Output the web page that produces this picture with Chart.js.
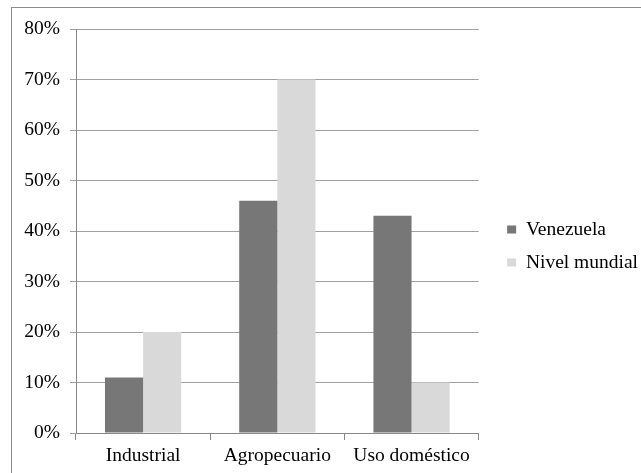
<!DOCTYPE html>
<html>
<head>
<meta charset="utf-8">
<script src="https://cdn.jsdelivr.net/npm/chart.js@4"></script>
<style>
  html, body { margin: 0; padding: 0; background: #fff; }
  #marco { position: absolute; left: 11px; top: 7px; width: 640px; height: 480px; border: 1.5px solid #8a8a8a; }
  #caja { position: absolute; left: 0; top: 0; width: 641px; height: 473px; }
</style>
</head>
<body>
<div id="marco"></div>
<div id="caja"><canvas id="grafico"></canvas></div>
<script>
  const categorias = ["Industrial", "Agropecuario", "Uso doméstico"];
  const venezuela = [11, 46, 43];
  const nivelMundial = [20, 70, 10];
  const ticksY = [0, 10, 20, 30, 40, 50, 60, 70, 80];

  const fuente = { family: "'Liberation Serif', 'Times New Roman', serif", size: 19.5 };

  // correr la leyenda a la derecha y un poco arriba, como en el original
  const moverLeyenda = {
    id: "moverLeyenda",
    afterLayout(chart) {
      const l = chart.legend;
      if (l) {
        l.left += 15; l.right += 15;
        l.top -= 5; l.bottom -= 5;
      }
    },
  };

  const ctx = document.getElementById("grafico").getContext("2d");
  const grafico = new Chart(ctx, {
    type: "bar",
    data: {
      labels: categorias,
      datasets: [
        { label: "Venezuela", data: venezuela, backgroundColor: "#777777", categoryPercentage: 0.568, barPercentage: 1 },
        { label: "Nivel mundial", data: nivelMundial, backgroundColor: "#d9d9d9", categoryPercentage: 0.568, barPercentage: 1 },
      ],
    },
    options: {
      responsive: true,
      maintainAspectRatio: false,
      animation: false,
      layout: { padding: { top: 29, left: 0, right: 8, bottom: 0 } },
      plugins: {
        legend: {
          position: "right",
          labels: { font: fuente, color: "#000", boxWidth: 9, boxHeight: 8, padding: 13.5 },
        },
        title: { display: false },
        tooltip: { enabled: false },
      },
      scales: {
        x: {
          grid: { drawOnChartArea: false, drawTicks: true, tickLength: 7, color: "#888" },
          border: { color: "#888" },
          ticks: { font: fuente, color: "#000", padding: 4 },
          afterFit(scale) { scale.height = 40; },
        },
        y: {
          min: 0,
          max: 80,
          afterBuildTicks(scale) { scale.ticks = ticksY.map((v) => ({ value: v })); },
          grid: { color: "#a0a0a0", tickLength: 6 },
          border: { color: "#888" },
          ticks: { font: fuente, color: "#000", padding: 10, callback: (v) => v + "%" },
          afterFit(scale) { scale.width = 76; },
        },
      },
    },
    plugins: [moverLeyenda],
  });
</script>
</body>
</html>
